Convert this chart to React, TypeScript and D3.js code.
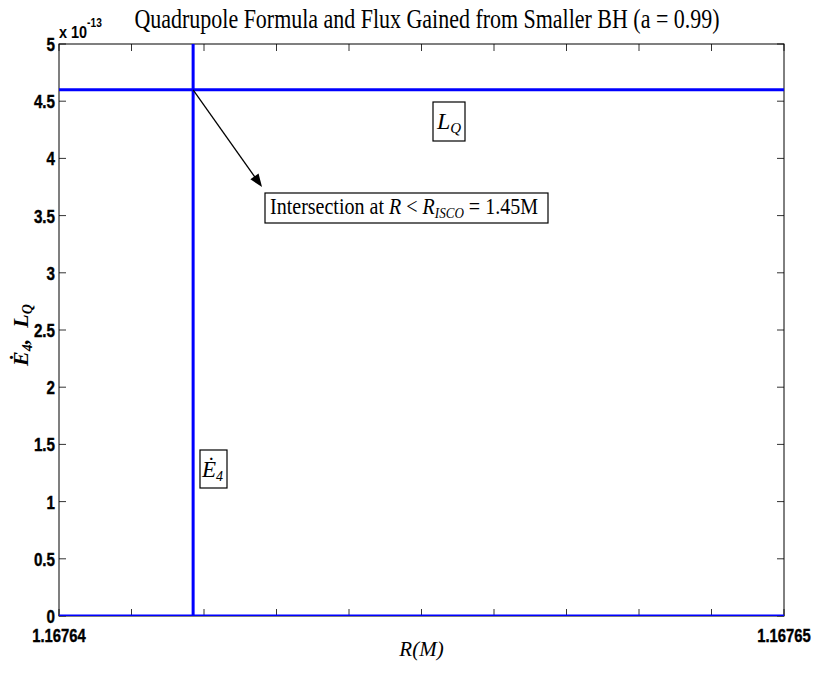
import React from "react";
import * as d3 from "d3";

const W = 814;
const H = 676;

const title = "Quadrupole Formula and Flux Gained from Smaller BH (a = 0.99)";
const xDomain = [1.16764, 1.16765];
const yDomain = [0, 5e-13];
const xTickValues = d3.range(0, 11).map((i) => 1.16764 + i * 1e-6);
const xTickLabels = ["1.16764", "1.16765"];
const yTickValues = d3.range(0, 11).map((i) => i * 0.5e-13);
const yTickLabels = ["0", "0.5", "1", "1.5", "2", "2.5", "3", "3.5", "4", "4.5", "5"];

// L_Q: constant quadrupole luminosity
const lqR = [1.16764, 1.16765];
const lqV = [4.6e-13, 4.6e-13];
// E4 flux: zero except a spike at the intersection radius
const e4R = [1.16764, 1.16764185, 1.16764185, 1.16764185, 1.16765];
const e4V = [0, 0, 9e-13, 0, 0];

// annotation anchors in data coords
const arrowFrom = [1.16764185, 4.6e-13];
const arrowTo = [1.1676428, 3.75e-13];

export default function App() {
  const m = { l: 59, r: 784, t: 44, b: 616 };
  const x = d3.scaleLinear().domain(xDomain).range([m.l, m.r]);
  const y = d3.scaleLinear().domain(yDomain).range([m.b, m.t]);
  const line = d3
    .line<[number, number]>()
    .x((d) => x(d[0]))
    .y((d) => y(d[1]));
  const lq = lqR.map((r, i) => [r, lqV[i]] as [number, number]);
  const e4 = e4R.map((r, i) => [r, e4V[i]] as [number, number]);
  const tickLen = 7;
  const tickFont = "'Liberation Sans', Arial, sans-serif";
  const serif = "'Liberation Serif', 'Times New Roman', serif";

  const ax1 = x(arrowFrom[0]);
  const ay1 = y(arrowFrom[1]);
  const ax2 = x(arrowTo[0]);
  const ay2 = y(arrowTo[1]);
  const ang = Math.atan2(ay2 - ay1, ax2 - ax1);
  const hl = 13;
  const hw = 5;
  const head = [
    [ax2, ay2],
    [ax2 - hl * Math.cos(ang) + hw * Math.sin(ang), ay2 - hl * Math.sin(ang) - hw * Math.cos(ang)],
    [ax2 - hl * Math.cos(ang) - hw * Math.sin(ang), ay2 - hl * Math.sin(ang) + hw * Math.cos(ang)],
  ];

  return (
    <svg
      width={W}
      height={H}
      style={{ position: "absolute", left: 0, top: 0, background: "#fff" }}
    >
      <rect x={0} y={0} width={W} height={H} fill="#fff" />
      <defs>
        <clipPath id="plot">
          <rect x={m.l} y={m.t} width={m.r - m.l} height={m.b - m.t} />
        </clipPath>
      </defs>
      {/* ticks */}
      {xTickValues.map((v, i) => (
        <g key={"xt" + i} stroke="#333" strokeWidth={1}>
          <line x1={x(v)} x2={x(v)} y1={m.b} y2={m.b - tickLen} />
          <line x1={x(v)} x2={x(v)} y1={m.t} y2={m.t + tickLen} />
        </g>
      ))}
      {yTickValues.map((v, i) => (
        <g key={"yt" + i} stroke="#333" strokeWidth={1}>
          <line x1={m.l} x2={m.l + tickLen} y1={y(v)} y2={y(v)} />
          <line x1={m.r} x2={m.r - tickLen} y1={y(v)} y2={y(v)} />
        </g>
      ))}
      {/* box */}
      <rect x={m.l} y={m.t} width={m.r - m.l} height={m.b - m.t} fill="none" stroke="#000" strokeWidth={1} />
      {/* data */}
      <g clipPath="url(#plot)" fill="none" stroke="#0000ff" strokeWidth={3}>
        <path d={line(lq) || ""} />
        <path d={line(e4) || ""} />
      </g>
      {/* tick labels */}
      {yTickValues.map((v, i) => (
        <text
          key={"yl" + i}
          transform={`translate(${m.l - 4},${y(v) + 7}) scale(0.8,1)`}
          textAnchor="end"
          fontFamily={tickFont}
          fontWeight="bold"
          fontSize={19}
          stroke="#000"
          strokeWidth={0.4}
          fill="#000"
        >
          {yTickLabels[i]}
        </text>
      ))}
      {[xDomain[0], xDomain[1]].map((v, i) => (
        <text
          key={"xl" + i}
          transform={`translate(${x(v)},${m.b + 26}) scale(0.78,1)`}
          textAnchor="middle"
          fontFamily={tickFont}
          fontWeight="bold"
          fontSize={19}
          stroke="#000"
          strokeWidth={0.4}
          fill="#000"
        >
          {xTickLabels[i]}
        </text>
      ))}
      {/* exponent */}
      <text
        transform={`translate(${m.l},${m.t - 6}) scale(0.85,1)`}
        fontFamily={tickFont}
        fontWeight="bold"
        fontSize={17}
        fill="#000"
      >
        x 10
        <tspan fontSize={12} dy={-11}>-13</tspan>
      </text>
      {/* title */}
      <text
        x={427}
        y={28}
        textAnchor="middle"
        fontFamily={serif}
        fontSize={27}
        textLength={585}
        lengthAdjust="spacingAndGlyphs"
        fill="#000"
      >
        {title}
      </text>
      {/* axis labels */}
      <text
        x={(m.l + m.r) / 2}
        y={656}
        textAnchor="middle"
        fontFamily={serif}
        fontStyle="italic"
        fontSize={21}
        fill="#000"
      >
        R(M)
      </text>
      <text
        transform={`translate(28,${(m.t + m.b) / 2 + 36}) rotate(-90)`}
        fontFamily={serif}
        fontStyle="italic"
        fontWeight="bold"
        fontSize={22}
        fill="#000"
      >
        Ė
        <tspan fontSize={14} dy={4}>4</tspan>
        <tspan dy={-4}>,{"\u00a0\u00a0"}L</tspan>
        <tspan fontSize={14} dy={4}>Q</tspan>
      </text>
      {/* L_Q annotation */}
      <rect x={433} y={102} width={32} height={39} fill="#fff" stroke="#000" strokeWidth={1.2} />
      <text x={437} y={129} fontFamily={serif} fontStyle="italic" fontSize={24} fill="#000">
        L<tspan fontSize={15} dy={4}>Q</tspan>
      </text>
      {/* E4 annotation */}
      <rect x={200} y={450} width={27} height={38} fill="#fff" stroke="#000" strokeWidth={1.2} />
      <text x={202} y={477} fontFamily={serif} fontStyle="italic" fontSize={23} fill="#000">
        Ė<tspan fontSize={14} dy={4}>4</tspan>
      </text>
      {/* arrow */}
      <line x1={ax1} y1={ay1} x2={ax2 - 8 * Math.cos(ang)} y2={ay2 - 8 * Math.sin(ang)} stroke="#000" strokeWidth={1.3} />
      <polygon points={head.map((p) => p.join(",")).join(" ")} fill="#000" />
      {/* intersection annotation */}
      <rect x={265} y={193} width={283} height={30} fill="#fff" stroke="#000" strokeWidth={1.2} />
      <text
        x={270}
        y={214}
        fontFamily={serif}
        fontSize={23}
        textLength={268}
        lengthAdjust="spacingAndGlyphs"
        fill="#000"
      >
        Intersection at <tspan fontStyle="italic">R</tspan> &lt; <tspan fontStyle="italic">R</tspan>
        <tspan fontStyle="italic" fontSize={15} dy={4}>ISCO</tspan>
        <tspan dy={-4}> = 1.45M</tspan>
      </text>
    </svg>
  );
}
